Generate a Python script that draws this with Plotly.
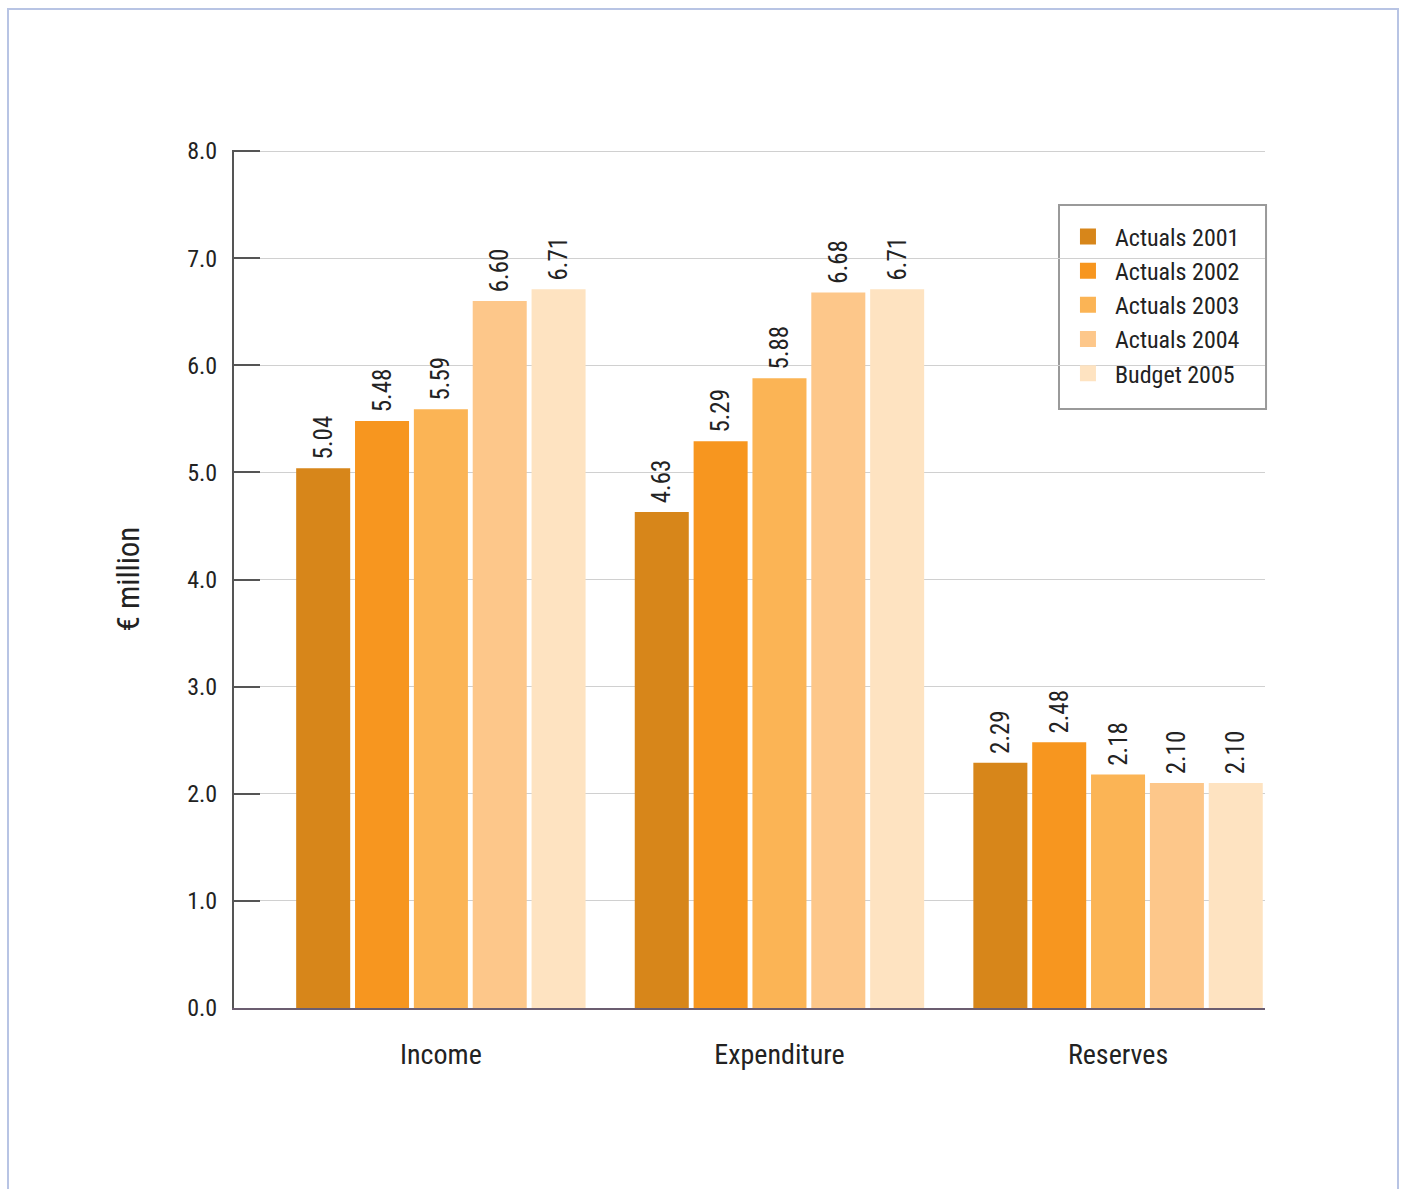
import plotly.graph_objects as go

categories = ["Income", "Expenditure", "Reserves"]
series_names = ["Actuals 2001", "Actuals 2002", "Actuals 2003", "Actuals 2004", "Budget 2005"]
actuals_2001 = [5.04, 4.63, 2.29]
actuals_2002 = [5.48, 5.29, 2.48]
actuals_2003 = [5.59, 5.88, 2.18]
actuals_2004 = [6.60, 6.68, 2.10]
budget_2005 = [6.71, 6.71, 2.10]
label_2001 = ["5.04", "4.63", "2.29"]
label_2002 = ["5.48", "5.29", "2.48"]
label_2003 = ["5.59", "5.88", "2.18"]
label_2004 = ["6.60", "6.68", "2.10"]
label_2005 = ["6.71", "6.71", "2.10"]
y_ticks = [0, 1, 2, 3, 4, 5, 6, 7, 8]
y_tick_labels = ["0.0", "1.0", "2.0", "3.0", "4.0", "5.0", "6.0", "7.0", "8.0"]

colors = ["#D7861A", "#F7961F", "#FBB455", "#FDC78A", "#FEE3C1"]
values = [actuals_2001, actuals_2002, actuals_2003, actuals_2004, budget_2005]
labels = [label_2001, label_2002, label_2003, label_2004, label_2005]

FONT = "Liberation Sans Narrow, Roboto Condensed, Arial Narrow, Liberation Sans, sans-serif"

fig = go.Figure()
for name, vals, labs, col in zip(series_names, values, labels, colors):
    fig.add_trace(go.Bar(
        x=categories, y=vals, name=name, marker=dict(color=col, line=dict(width=0)),
        text=[" " + t for t in labs], textposition="outside", textangle=-90,
        textfont=dict(size=25, color="#222222", family=FONT),
        cliponaxis=False, showlegend=False,
    ))
# legend entries with larger square swatches
for name, col in zip(series_names, colors):
    fig.add_trace(go.Scatter(
        x=[None], y=[None], mode="markers", name=name,
        marker=dict(symbol="square", size=23, color=col),
        showlegend=True,
    ))

fig.update_layout(
    width=1404, height=1189,
    margin=dict(l=234, r=139, t=150, b=181),
    paper_bgcolor="white", plot_bgcolor="white",
    font=dict(family=FONT, color="#222222"),
    barmode="group", bargap=0.131, bargroupgap=0.082,
    showlegend=True,
    legend=dict(
        x=0.8021, y=0.9250, xanchor="left", yanchor="top",
        borderwidth=0, bgcolor="rgba(0,0,0,0)",
        font=dict(size=24, family=FONT, color="#222222"),
        itemsizing="trace", tracegroupgap=0, itemwidth=44,
    ),
    uniformtext=dict(minsize=25, mode="show"),
)

fig.update_xaxes(
    range=[-0.611, 2.434], showgrid=False, showline=True, linecolor="#6b5d70", linewidth=2,
    ticks="", tickfont=dict(size=28, family=FONT, color="#222222"), ticklabelstandoff=20,
)
fig.update_yaxes(
    range=[0, 8.01], tickvals=y_ticks, ticktext=y_tick_labels,
    showgrid=True, gridcolor="#d0d0d0", gridwidth=1,
    showline=True, linecolor="#555555", linewidth=2,
    ticks="inside", ticklen=26, tickcolor="#555555", tickwidth=2,
    tickfont=dict(size=24, family=FONT, color="#222222"), ticklabelstandoff=10,
    title=dict(text="€ million", font=dict(size=31, family=FONT, color="#222222"), standoff=38),
    zeroline=False,
)

# legend frame
fig.add_shape(type="rect", xref="paper", yref="paper",
              x0=0.8002, x1=1.001, y0=0.6981, y1=0.9359,
              line=dict(color="#9a9a9a", width=2), fillcolor="white", layer="below")

# outer frame
fig.add_shape(type="rect", xref="paper", yref="paper",
              x0=-0.2192, x1=1.129, y0=-0.26, y1=1.1643,
              line=dict(color="#B8C4E4", width=2), fillcolor="rgba(0,0,0,0)", layer="below")

fig.write_html("out.html")
